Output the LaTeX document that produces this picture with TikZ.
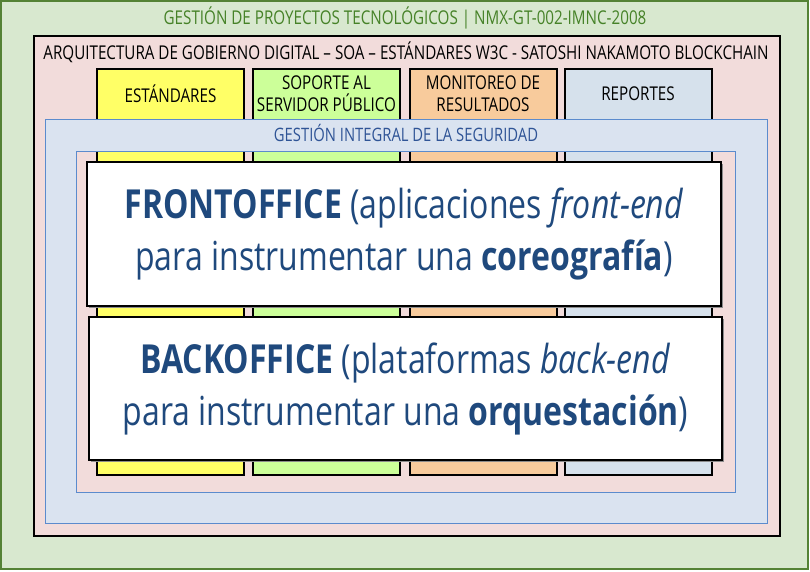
\documentclass[tikz,border=0pt]{standalone}
\usepackage{fontspec}
\setmainfont[FakeStretch=0.8]{Open Sans}
\usetikzlibrary{positioning,fit,backgrounds,shadows}
\definecolor{greenbg}{RGB}{216,232,207}
\definecolor{greenline}{RGB}{84,130,53}
\definecolor{greentext}{RGB}{70,130,40}
\definecolor{pinkbg}{RGB}{242,220,219}
\definecolor{yellowi}{RGB}{255,255,102}
\definecolor{greeni}{RGB}{204,255,153}
\definecolor{orangei}{RGB}{248,203,156}
\definecolor{grayblue}{RGB}{214,225,236}
\definecolor{bluebg}{RGB}{218,227,240}
\definecolor{blueline}{RGB}{91,139,205}
\definecolor{bluetext}{RGB}{47,84,150}
\definecolor{bluedark}{RGB}{31,73,125}
\tikzset{
      mygreen/.style={
        draw=greenline,
        fill=greenbg,
        line width=1.5pt
      },
      mypink/.style={
        draw=black,
        fill=pinkbg,
        line width=1.5pt
      },
      mytitle/.style={
        font=\fontsize{19}{23}\selectfont,
        inner sep=0pt
      },
      mycolumn/.style={
        draw=black,
        fill=#1,
        line width=2pt,
        minimum width=147pt,
        minimum height=406pt
      },
      mylabel/.style={
        align=center,
        font=\fontsize{19}{22}\selectfont,
        inner sep=0pt
      },
      mysegfit/.style={
        draw=none,
        inner sep=0pt
      },
      myoffice/.style={
        draw=black,
        fill=white,
        line width=1.8pt,
        align=center,
        text=bluedark,
        font=\fontsize{40}{52}\selectfont,
        drop shadow={shadow xshift=2pt, shadow yshift=-2pt, fill=black!45, opacity=1}
      },
    }
\begin{document}
\begin{tikzpicture}[x=1pt,y=-1pt]
          \useasboundingbox (0,0) rectangle (810,571);

          \node[mygreen, minimum width=807pt, minimum height=568pt]
            (proyectos) at (404.5,285) {};
          \node[mytitle, text=greentext]
            (titproyectos) at (405,18)
            {GESTIÓN DE PROYECTOS TECNOLÓGICOS | NMX-GT-002-IMNC-2008};

          \node[mypink, minimum width=746pt, minimum height=500pt]
            (arquitectura) at (407,286) {};
          \node[mytitle]
            (titarquitectura) at (406,52)
            {ARQUITECTURA DE GOBIERNO DIGITAL – SOA – ESTÁNDARES W3C - SATOSHI NAKAMOTO BLOCKCHAIN};

          \node[mycolumn=yellowi] (colestandares) at (170.5,272) {};
          \node[mycolumn=greeni] (colsoporte) at (326.5,272) {};
          \node[mycolumn=orangei] (colmonitoreo) at (483,272) {};
          \node[mycolumn=grayblue] (colreportes) at (638,272) {};

          \node[mylabel] (estandares) at ([yshift=-26pt]colestandares.north) {ESTÁNDARES};
          \node[mylabel] (soporte) at ([yshift=-26pt]colsoporte.north) {SOPORTE AL\\SERVIDOR PÚBLICO};
          \node[mylabel] (monitoreo) at ([yshift=-26pt]colmonitoreo.north) {MONITOREO DE\\RESULTADOS};
          \node[mylabel] (reportes) at ([yshift=-26pt]colreportes.north) {REPORTES};

          % marco de seguridad
          \node[mysegfit, minimum width=721pt, minimum height=403pt]
            (seguridad) at (406.5,321.5) {};
          \node[mysegfit, minimum width=658pt, minimum height=340pt]
            (segint) at (406,322) {};
          \fill[bluebg, even odd rule]
            (seguridad.north west) rectangle (seguridad.south east)
            (segint.north west) rectangle (segint.south east);
          \draw[blueline, line width=1.2pt]
            (seguridad.north west) rectangle (seguridad.south east)
            (segint.north west) rectangle (segint.south east);
          \node[mytitle, text=bluetext, font=\fontsize{18.5}{22}\selectfont]
            (titseguridad) at (406,133)
            {GESTIÓN INTEGRAL DE LA SEGURIDAD};

          \node[myoffice, minimum width=634pt, minimum height=144pt]
            (frontoffice) at (404,234)
            {\textbf{FRONTOFFICE} (aplicaciones \textit{front-end}\\
             para instrumentar una \textbf{coreografía})};
          \node[myoffice, minimum width=633pt, minimum height=143pt]
            (backoffice) at (405.5,388.5)
            {\textbf{BACKOFFICE} (plataformas \textit{back-end}\\
             para instrumentar una \textbf{orquestación})};
        \end{tikzpicture}
\end{document}
